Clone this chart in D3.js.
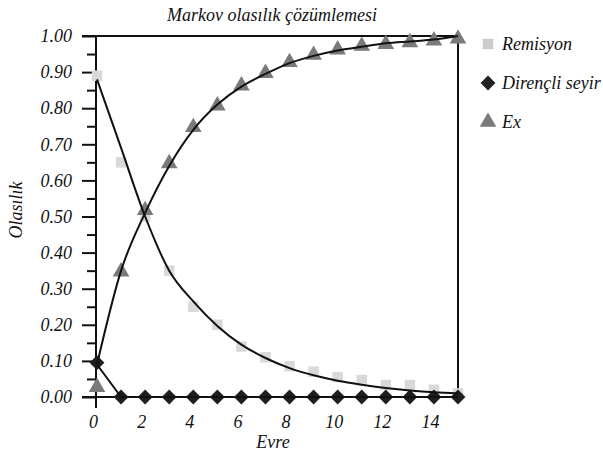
<!DOCTYPE html>
<html>
<head>
<meta charset="utf-8">
<script src="https://cdn.jsdelivr.net/npm/d3@7"></script>
<style>
  body { margin: 0; background: #fff; }
  text { font-family: "Liberation Serif", serif; font-style: italic; fill: #111; }
</style>
</head>
<body>
<div id="chart"></div>
<script>
// Stage (x) values
const evre = [0, 1, 2, 3, 4, 5, 6, 7, 8, 9, 10, 11, 12, 13, 14, 15];

// Observed points
const remisyon = [0.89, 0.65, 0.50, 0.35, 0.25, 0.20, 0.14, 0.11, 0.085, 0.07, 0.055, 0.047, 0.033, 0.033, 0.02, 0.01];
const direncli = [0.095, 0, 0, 0, 0, 0, 0, 0, 0, 0, 0, 0, 0, 0, 0, 0];
const ex = [0.03, 0.35, 0.52, 0.65, 0.75, 0.81, 0.865, 0.90, 0.93, 0.95, 0.965, 0.975, 0.98, 0.985, 0.99, 0.995];

// Fitted (model) lines
const remisyonFit = [0.88, 0.69, 0.50, 0.35, 0.265, 0.197, 0.145, 0.108, 0.08, 0.06, 0.045, 0.034, 0.025, 0.018, 0.013, 0.01];
const direncliFit = [0.09, 0, 0, 0, 0, 0, 0, 0, 0, 0, 0, 0, 0, 0, 0, 0];
const exFit = [0.09, 0.35, 0.51, 0.64, 0.74, 0.81, 0.86, 0.895, 0.925, 0.945, 0.96, 0.97, 0.98, 0.985, 0.99, 1.0];

const yTicks = [0, 0.1, 0.2, 0.3, 0.4, 0.5, 0.6, 0.7, 0.8, 0.9, 1.0];
const yMinorTicks = [0.05, 0.15, 0.25, 0.35, 0.45, 0.55, 0.65, 0.75, 0.85, 0.95];
const xTicks = [0, 2, 4, 6, 8, 10, 12, 14];

const seriesNames = ['Remisyon', 'Dirençli seyir', 'Ex'];

const svgWidth = 603, svgHeight = 454;
const margin = { top: 36, right: 145, bottom: 57, left: 97 };

const svg = d3.select('#chart')
  .append('svg')
  .attr('width', svgWidth)
  .attr('height', svgHeight);

const x = d3.scaleLinear().domain([0, 15]).range([margin.left, svgWidth - margin.right]);
const y = d3.scaleLinear().domain([0, 1]).range([svgHeight - margin.bottom, margin.top]);

// Left axis: major + minor ticks
const yAxis = svg.append('g')
  .attr('transform', `translate(${x(0) - 1},0)`)
  .call(d3.axisLeft(y).tickValues(yTicks).tickSize(14).tickPadding(10).tickFormat(d3.format('.2f')));
yAxis.select('.domain').remove();
yAxis.selectAll('line').attr('stroke', '#111').attr('stroke-width', 2);
yAxis.selectAll('text').style('font-size', '18px').attr('fill', '#111');

const yMinor = svg.append('g')
  .attr('transform', `translate(${x(0) - 1},0)`)
  .call(d3.axisLeft(y).tickValues(yMinorTicks).tickSize(9).tickFormat(''));
yMinor.select('.domain').remove();
yMinor.selectAll('line').attr('stroke', '#111').attr('stroke-width', 2);

// Bottom axis labels
const xAxis = svg.append('g')
  .attr('transform', `translate(0,${y(0)})`)
  .call(d3.axisBottom(x).tickValues(xTicks).tickSize(0).tickPadding(18));
xAxis.select('.domain').remove();
xAxis.selectAll('text').attr('dx', -4).style('font-size', '18px').attr('fill', '#111');

// Frame
const frame = svg.append('g').attr('stroke', '#111').attr('stroke-width', 2).attr('fill', 'none');
frame.append('line').attr('x1', x(0) - 15).attr('x2', x(15)).attr('y1', y(1)).attr('y2', y(1));
frame.append('line').attr('x1', x(0) - 15).attr('x2', x(15)).attr('y1', y(0)).attr('y2', y(0));
frame.append('line').attr('x1', x(15)).attr('x2', x(15)).attr('y1', y(1)).attr('y2', y(0));
frame.append('line').attr('x1', x(0) - 1).attr('x2', x(0) - 1).attr('y1', y(1)).attr('y2', y(0) + 11);

// Markers
const squareSym = d3.symbol().type(d3.symbolSquare).size(110);
const diamondSym = d3.symbol().type(d3.symbolSquare).size(110);
const triSym = d3.symbol().type(d3.symbolTriangle).size(120);

svg.append('g').selectAll('path')
  .data(evre)
  .enter()
  .append('path')
  .attr('d', squareSym)
  .attr('transform', (d, i) => `translate(${x(d)},${y(remisyon[i])})`)
  .attr('fill', '#d9d9d9');

svg.append('g').selectAll('path')
  .data(evre)
  .enter()
  .append('path')
  .attr('d', triSym)
  .attr('transform', (d, i) => `translate(${x(d)},${y(ex[i]) + 1})`)
  .attr('fill', '#7a7a7a');

svg.append('g').selectAll('path')
  .data(evre)
  .enter()
  .append('path')
  .attr('d', diamondSym)
  .attr('transform', (d, i) => `translate(${x(d)},${y(direncli[i])}) rotate(45)`)
  .attr('fill', '#1e1e1e');

// Fitted lines
const smooth = d3.line()
  .x((d, i) => x(evre[i]))
  .y(d => y(d))
  .curve(d3.curveMonotoneX);
const straight = d3.line()
  .x((d, i) => x(evre[i]))
  .y(d => y(d));

svg.append('path').attr('d', smooth(remisyonFit)).attr('fill', 'none').attr('stroke', '#111').attr('stroke-width', 2);
svg.append('path').attr('d', smooth(exFit)).attr('fill', 'none').attr('stroke', '#111').attr('stroke-width', 2);
svg.append('path').attr('d', straight(direncliFit)).attr('fill', 'none').attr('stroke', '#111').attr('stroke-width', 2);

// Legend
const legendY = [44, 83, 122];
const legendSyms = [
  { sym: squareSym, fill: '#cccccc', rot: 0 },
  { sym: diamondSym, fill: '#222222', rot: 45 },
  { sym: triSym, fill: '#7a7a7a', rot: 0 }
];
seriesNames.forEach((name, i) => {
  const row = svg.append('g').attr('transform', `translate(488,${legendY[i]})`);
  row.append('path')
    .attr('d', legendSyms[i].sym)
    .attr('transform', `rotate(${legendSyms[i].rot})`)
    .attr('fill', legendSyms[i].fill);
  row.append('text')
    .attr('x', 14)
    .attr('dy', '0.33em')
    .style('font-size', '18px')
    .text(name);
});

// Title
svg.append('text')
  .attr('x', 272)
  .attr('y', 21)
  .attr('text-anchor', 'middle')
  .style('font-size', '18px')
  .text('Markov olasılık çözümlemesi');

// Axis labels
svg.append('text')
  .attr('x', 273)
  .attr('y', 448)
  .attr('text-anchor', 'middle')
  .style('font-size', '18px')
  .text('Evre');

svg.append('text')
  .attr('transform', 'translate(22,210) rotate(-90)')
  .attr('text-anchor', 'middle')
  .style('font-size', '18px')
  .text('Olasılık');
</script>
</body>
</html>
